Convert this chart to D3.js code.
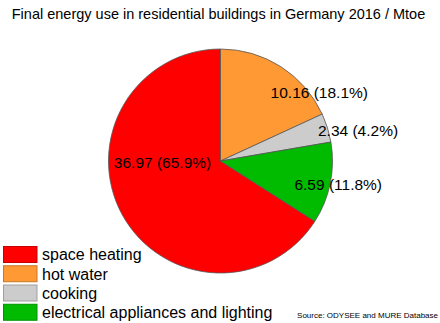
<!DOCTYPE html>
<html>
<head>
<meta charset="utf-8">
<script src="https://cdn.jsdelivr.net/npm/d3@7"></script>
<style>
  body { margin: 0; background: #fff; }
  text { font-family: "Liberation Sans", Arial, sans-serif; fill: #000; }
</style>
</head>
<body>
<svg id="chart" width="440" height="323"></svg>
<script>
// data
const categories = ["space heating", "hot water", "cooking", "electrical appliances and lighting"];
const values = [36.97, 10.16, 2.34, 6.59];
const shares = [65.9, 18.1, 4.2, 11.8];
const colors = ["#ff0000", "#ff9933", "#cccccc", "#00bb00"];

const width = 440, height = 323;
const cx = 220.5, cy = 161, radius = 112;

// hand-tuned label spots: angle (deg from top, clockwise) and distance from centre
const labelPos = [
    { a: 269, r: 58 },
    { a: 55.4, r: 120 },
    { a: 77.3, r: 141 },
    { a: 101.1, r: 120 }
];

const svg = d3.select("#chart");

svg.append("text")
    .attr("x", 218.5)
    .attr("y", 19)
    .attr("text-anchor", "middle")
    .style("font-size", "14.5px")
    .text("Final energy use in residential buildings in Germany 2016 / Mtoe");

const data = categories.map((c, i) => ({ key: c, value: values[i], share: shares[i], color: colors[i], i: i }));

// draw clockwise from 12 o'clock: hot water, cooking, electrical, then space heating
const order = [1, 2, 3, 0];
const pie = d3.pie()
    .value((d) => d.value)
    .sort((a, b) => order.indexOf(a.i) - order.indexOf(b.i));

const arc = d3.arc().innerRadius(0).outerRadius(radius);

const g = svg.append("g")
    .attr("transform", "translate(" + cx + "," + cy + ")");

const arcs = pie(data);

g.selectAll("path")
    .data(arcs)
    .enter()
    .append("path")
    .attr("d", arc)
    .style("fill", (d) => d.data.color)
    .style("stroke", "#555")
    .style("stroke-width", 0.8);

g.selectAll(".label")
    .data(arcs)
    .enter()
    .append("text")
    .attr("class", "label")
    .attr("x", (d) => labelPos[d.data.i].r * Math.sin(labelPos[d.data.i].a * Math.PI / 180))
    .attr("y", (d) => -labelPos[d.data.i].r * Math.cos(labelPos[d.data.i].a * Math.PI / 180))
    .attr("text-anchor", "middle")
    .attr("dy", "0.36em")
    .style("font-size", "15.5px")
    .text((d) => d3.format(".2f")(d.data.value) + " (" + d3.format(".1f")(d.data.share) + "%)");

// legend
const legend = svg.append("g")
    .attr("transform", "translate(3,246)");

const row = d3.scaleBand()
    .domain(categories)
    .range([0, 77]);

const items = legend.selectAll(".item")
    .data(data)
    .enter()
    .append("g")
    .attr("transform", (d) => "translate(0," + row(d.key) + ")");

items.append("rect")
    .attr("x", 0.5)
    .attr("y", 0.5)
    .attr("width", 33.5)
    .attr("height", 16)
    .style("fill", (d) => d.color)
    .style("stroke", (d) => d3.color(d.color).darker(0.7))
    .style("stroke-width", 1);

items.append("text")
    .attr("x", 39)
    .attr("y", 8.5)
    .attr("dy", "0.36em")
    .style("font-size", "16px")
    .text((d) => d.key);

svg.append("text")
    .attr("x", 438)
    .attr("y", 318)
    .attr("text-anchor", "end")
    .style("font-size", "8px")
    .text("Source: ODYSEE and MURE Database");
</script>
</body>
</html>
